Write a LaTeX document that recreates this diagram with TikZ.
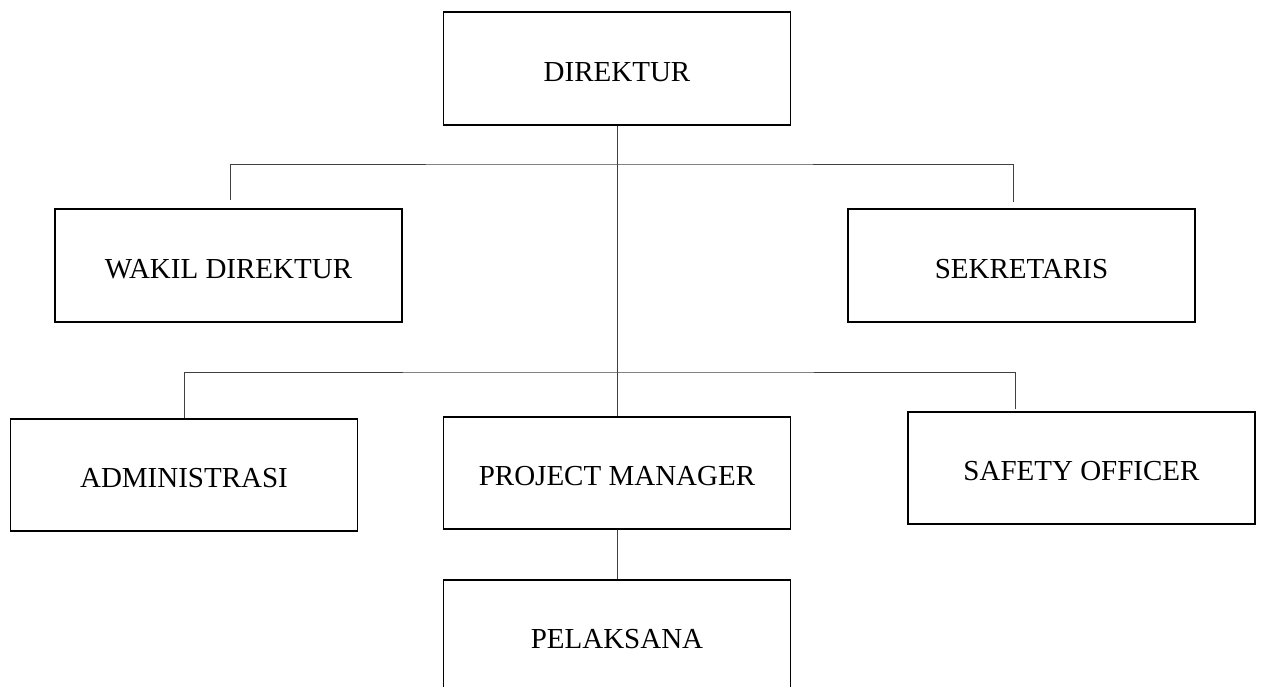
\documentclass[tikz,border=0pt]{standalone}
\usepackage{fontspec}
\setmainfont{Liberation Serif}
\usepackage{tikz}

\tikzset{
  jabatan/.style={draw, line width=1.7pt, minimum width=347pt, minimum height=113pt,
    inner sep=0pt, text height=25pt, text depth=0pt, font=\fontsize{29}{33}\selectfont},
  garis/.style={line width=0.9pt, black!75}
}

\begin{document}
\begin{tikzpicture}[x=1pt, y=-1pt]
\useasboundingbox (0,0) rectangle (1261,686);
\node[jabatan] (dir) at (617,68.5) {DIREKTUR};
\node[jabatan] (wakil) at (228.5,265.5) {WAKIL DIREKTUR};
\node[jabatan] (sek) at (1021.5,265.5) {SEKRETARIS};
\node[jabatan, minimum height=112pt] (adm) at (184,475) {ADMINISTRASI};
\node[jabatan, minimum height=112pt] (pm) at (617,473) {PROJECT MANAGER};
\node[jabatan, minimum height=112pt] (saf) at (1081.5,468) {SAFETY OFFICER};
\node[jabatan, minimum height=112pt] (pel) at (617,636) {PELAKSANA};
\coordinate (jn1) at (617,164);
\coordinate (jn2) at (617,372);
\coordinate (w1) at (230,200);
\coordinate (s1) at (1013,202);
\coordinate (f1) at (1015,409);
\draw[garis] (dir.south) -- (pm.north);
\draw[garis] (w1) |- (jn1) -| (s1);
\draw[garis] (adm.north) |- (jn2) -| (f1);
\draw[garis] (pm.south) -- (pel.north);
\end{tikzpicture}
\end{document}
